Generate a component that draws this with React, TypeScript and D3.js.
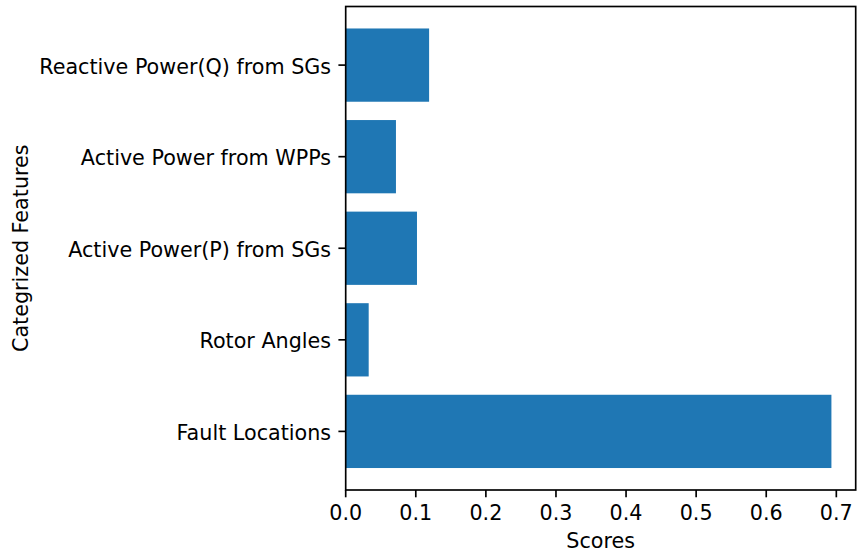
import React from "react";
import * as d3 from "d3";

const categories = [
  "Fault Locations",
  "Rotor Angles",
  "Active Power(P) from SGs",
  "Active Power from WPPs",
  "Reactive Power(Q) from SGs",
];
const scores = [0.693, 0.0328, 0.1017, 0.0717, 0.119];
const xTicks = [0, 0.1, 0.2, 0.3, 0.4, 0.5, 0.6, 0.7];

const W = 860;
const H = 554;
const M = { left: 345.7, right: 855.7, top: 6.5, bottom: 490 };
const FONT = "DejaVu Sans, sans-serif";
const FS = 20.7;
const BLUE = "#1f77b4";

export default function App() {
  const maxV = d3.max(scores) as number;
  const x = d3.scaleLinear().domain([0, maxV * 1.05]).range([M.left, M.right]);
  const n = categories.length;
  const lo = -0.4 - 0.05 * (n - 1 + 0.8);
  const hi = n - 1 + 0.4 + 0.05 * (n - 1 + 0.8);
  const y = d3.scaleLinear().domain([lo, hi]).range([M.bottom, M.top]);
  const barH = Math.abs(y(0.8) - y(0));
  const lw = 1.67;
  const tick = 7.3;
  const pad = 7.3;

  return (
    <svg width={W} height={H} style={{ position: "absolute", left: 0, top: 0 }}>
      <rect x={0} y={0} width={W} height={H} fill="white" />
      {scores.map((v, i) => (
        <rect
          key={i}
          x={x(0)}
          y={y(i) - barH / 2}
          width={x(v) - x(0)}
          height={barH}
          fill={BLUE}
        />
      ))}
      <rect
        x={M.left}
        y={M.top}
        width={M.right - M.left}
        height={M.bottom - M.top}
        fill="none"
        stroke="black"
        strokeWidth={lw}
      />
      {xTicks.map((t) => (
        <g key={t}>
          <line x1={x(t)} x2={x(t)} y1={M.bottom} y2={M.bottom + tick} stroke="black" strokeWidth={lw} />
          <text
            x={x(t)}
            y={M.bottom + tick + pad + 15.2}
            textAnchor="middle"
            fontFamily={FONT}
            fontSize={FS}
          >
            {d3.format(".1f")(t)}
          </text>
        </g>
      ))}
      {categories.map((c, i) => (
        <g key={c}>
          <line x1={M.left - tick} x2={M.left} y1={y(i)} y2={y(i)} stroke="black" strokeWidth={lw} />
          <text
            x={M.left - tick - pad}
            y={y(i) + 1.5}
            dominantBaseline="central"
            textAnchor="end"
            fontFamily={FONT}
            fontSize={FS}
          >
            {c}
          </text>
        </g>
      ))}
      <text
        x={(M.left + M.right) / 2}
        y={548}
        textAnchor="middle"
        fontFamily={FONT}
        fontSize={FS}
      >
        Scores
      </text>
      <text
        transform={`translate(28, ${(M.top + M.bottom) / 2}) rotate(-90)`}
        textAnchor="middle"
        fontFamily={FONT}
        fontSize={FS}
      >
        Categrized Features
      </text>
    </svg>
  );
}
